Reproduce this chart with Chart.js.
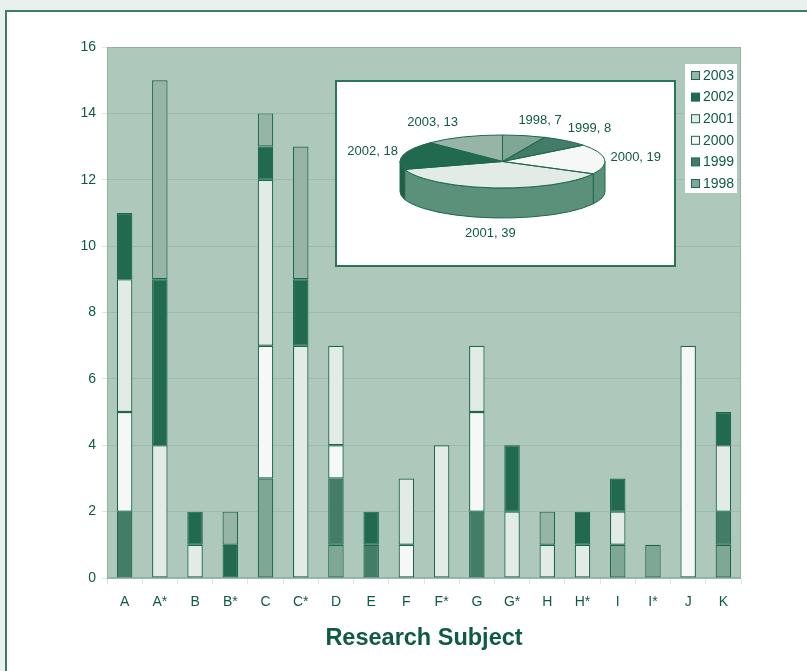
<!DOCTYPE html>
<html>
<head>
<meta charset="utf-8">
<script src="https://cdn.jsdelivr.net/npm/chart.js@4/dist/chart.umd.min.js"></script>
<style>
  html, body { margin: 0; padding: 0; background: #e9f1ee; }
  #stage { position: relative; width: 807px; height: 671px; overflow: hidden; }
  #panel { position: absolute; left: 5px; top: 10px; width: 900px; height: 800px;
           background: #ffffff; border: 2px solid #3f7c64; box-sizing: border-box; }
  #main { position: absolute; left: 0; top: 0; }
  #pieBox { position: absolute; left: 335px; top: 80px; width: 341px; height: 187px;
            box-sizing: border-box; border: 2px solid #2d7358; background: #ffffff; }
  #pie { position: absolute; left: 0; top: 0; }
</style>
</head>
<body>
<div id="stage">
  <div id="panel"></div>
  <canvas id="main" width="807" height="671"></canvas>
  <div id="pieBox"><canvas id="pie" width="337" height="183"></canvas></div>
</div>
<script>
// Research subjects along the x axis
const subjects = ['A', 'A*', 'B', 'B*', 'C', 'C*', 'D', 'E', 'F', 'F*', 'G', 'G*', 'H', 'H*', 'I', 'I*', 'J', 'K'];
const years = ['1998', '1999', '2000', '2001', '2002', '2003'];

// Count per subject for each year (stacked bottom to top)
const v1998 = [0, 0, 0, 0, 3, 0, 1, 0, 0, 0, 0, 0, 0, 0, 1, 1, 0, 1];
const v1999 = [2, 0, 0, 0, 0, 0, 2, 1, 0, 0, 2, 0, 0, 0, 0, 0, 0, 1];
const v2000 = [3, 0, 0, 0, 4, 0, 1, 0, 1, 0, 3, 0, 0, 0, 0, 0, 7, 0];
const v2001 = [4, 4, 1, 0, 5, 7, 3, 0, 2, 4, 2, 2, 1, 1, 1, 0, 0, 2];
const v2002 = [2, 5, 1, 1, 1, 2, 0, 1, 0, 0, 0, 2, 0, 1, 1, 0, 0, 1];
const v2003 = [0, 6, 0, 1, 1, 4, 0, 0, 0, 0, 0, 0, 1, 0, 0, 0, 0, 0];

const yTicks = [0, 2, 4, 6, 8, 10, 12, 14, 16];

const seriesValues = [v1998, v1999, v2000, v2001, v2002, v2003];
const faceColors = ['#7fa796', '#447d67', '#f6f8f7', '#e3ebe7', '#216a50', '#97b5a7'];
const sideColors = ['#6a9584', '#2f6a54', '#5b917b', '#5b917b', '#1d5f47', '#7fa190'];
const inkColor = '#0f5b40';
const edgeColor = '#1c684d';
const FONT = '"Liberation Sans", Arial, Helvetica, sans-serif';

// Totals per year for the inset pie
const yearTotals = seriesValues.map(arr => arr.reduce((a, b) => a + b, 0));

// ---------- main stacked bar chart ----------
const plotFrame = {
  id: 'plotFrame',
  beforeDraw(chart) {
    const { ctx, chartArea: a } = chart;
    ctx.save();
    ctx.fillStyle = '#afc8bc';
    ctx.fillRect(a.left, a.top, a.right - a.left, a.bottom - a.top);
    ctx.restore();
  },
  beforeDatasetsDraw(chart) {
    const { ctx, chartArea: a } = chart;
    ctx.save();
    ctx.strokeStyle = '#8fb2a2';
    ctx.lineWidth = 1;
    ctx.strokeRect(a.left + 0.5, a.top + 0.5, a.right - a.left - 1, a.bottom - a.top - 1);
    ctx.restore();
  }
};

// Boxed legend listing the years, newest first
const boxLegend = {
  id: 'boxLegend',
  afterDraw(chart) {
    const { ctx } = chart;
    const x0 = 685, y0 = 64, w = 52, h = 129;
    ctx.save();
    ctx.fillStyle = '#ffffff';
    ctx.fillRect(x0, y0, w, h);
    ctx.font = '14px ' + FONT;
    ctx.textBaseline = 'middle';
    ctx.textAlign = 'left';
    const order = chart.data.datasets.map((d, i) => i).reverse();
    order.forEach((di, row) => {
      const ds = chart.data.datasets[di];
      const cy = y0 + 11.5 + row * 21.6;
      ctx.fillStyle = ds.backgroundColor;
      ctx.fillRect(691.5, cy - 4, 8, 8);
      ctx.strokeStyle = edgeColor;
      ctx.lineWidth = 1;
      ctx.strokeRect(691.5, cy - 4, 8, 8);
      ctx.fillStyle = inkColor;
      ctx.fillText(ds.label, 703, cy + 0.5);
    });
    ctx.restore();
  }
};

new Chart(document.getElementById('main'), {
  type: 'bar',
  data: {
    labels: subjects,
    datasets: years.map((y, i) => ({
      label: y,
      data: seriesValues[i].map(v => (v === 0 ? null : v)),
      backgroundColor: faceColors[i],
      borderColor: edgeColor,
      borderWidth: 1.2,
      borderSkipped: false,
      barPercentage: 0.44,
      categoryPercentage: 1.0
    }))
  },
  options: {
    responsive: false,
    animation: false,
    events: [],
    layout: { padding: { left: 47, top: 47, right: 66, bottom: 0 } },
    plugins: { legend: { display: false }, tooltip: { enabled: false } },
    scales: {
      x: {
        stacked: true,
        border: { display: false },
        grid: { display: true, drawOnChartArea: false, offset: true, tickLength: 6,
                color: '#dbe4e0', tickColor: '#dbe4e0' },
        ticks: { color: inkColor, font: { family: FONT, size: 14 }, padding: 10,
                 maxRotation: 0, autoSkip: false },
        title: { display: true, text: 'Research Subject', color: inkColor,
                 font: { family: FONT, size: 23.5, weight: 'bold' },
                 padding: { top: 4, bottom: 18 } },
        afterFit(scale) { scale.height = 93; }
      },
      y: {
        stacked: true,
        min: 0,
        max: 16,
        border: { display: false },
        grid: { color: '#9dbbad', tickColor: '#dbe4e0', tickLength: 5 },
        ticks: { color: inkColor, font: { family: FONT, size: 14 }, padding: 6 },
        afterBuildTicks(scale) { scale.ticks = yTicks.map(v => ({ value: v })); },
        afterFit(scale) { scale.width = 60; }
      }
    }
  },
  plugins: [plotFrame, boxLegend]
});

// ---------- inset tilted pie with year totals ----------
const tilt = { ex: 165.5, ey: 79.5, rx: 102.5, ry: 26.5, depth: 30 };

const tiltedPie = {
  id: 'tiltedPie',
  beforeDatasetsDraw(chart) {
    const { ctx } = chart;
    const arcs = chart.getDatasetMeta(0).data;
    const { ex, ey, rx, ry, depth } = tilt;
    // visible rim of each slice (front half of the disc)
    ctx.save();
    ctx.lineWidth = 1;
    ctx.strokeStyle = edgeColor;
    arcs.forEach((arc, i) => {
      const a = Math.max(arc.startAngle, 0);
      const b = Math.min(arc.endAngle, Math.PI);
      if (a >= b) return;
      ctx.beginPath();
      ctx.ellipse(ex, ey, rx, ry, 0, a, b);
      ctx.ellipse(ex, ey + depth, rx, ry, 0, b, a, true);
      ctx.closePath();
      ctx.fillStyle = sideColors[i];
      ctx.fill();
      ctx.stroke();
    });
    ctx.restore();
    // flatten the slices that the library draws onto the top face
    const a0 = arcs[0];
    const r = a0.outerRadius;
    ctx.save();
    ctx.translate(ex, ey);
    ctx.scale(rx / r, ry / r);
    ctx.translate(-a0.x, -a0.y);
  },
  afterDatasetsDraw(chart) {
    const { ctx } = chart;
    ctx.restore();
    const arcs = chart.getDatasetMeta(0).data;
    const { ex, ey, rx, ry } = tilt;
    ctx.save();
    ctx.lineWidth = 1;
    ctx.strokeStyle = edgeColor;
    arcs.forEach(arc => {
      ctx.beginPath();
      ctx.moveTo(ex, ey);
      ctx.ellipse(ex, ey, rx, ry, 0, arc.startAngle, arc.endAngle);
      ctx.closePath();
      ctx.stroke();
    });
    ctx.restore();
  },
  afterDraw(chart) {
    const { ctx } = chart;
    const arcs = chart.getDatasetMeta(0).data;
    const values = chart.data.datasets[0].data;
    const { ex, ey, rx, ry, depth } = tilt;
    ctx.save();
    ctx.font = '13px ' + FONT;
    ctx.fillStyle = inkColor;
    ctx.textAlign = 'center';
    ctx.textBaseline = 'middle';
    arcs.forEach((arc, i) => {
      const mid = (arc.startAngle + arc.endAngle) / 2;
      const c = Math.cos(mid), s = Math.sin(mid);
      const text = chart.data.labels[i] + ', ' + values[i];
      const w = ctx.measureText(text).width;
      // labels above the disc spread out sideways so they do not collide
      const spread = s < -0.9 ? 1.45 : (s < -0.5 ? 1.1 : 1);
      const ax = ex + c * (rx + 6) * spread;
      const ay = ey + s * (ry + 8) + (s > 0 ? depth : 0);
      ctx.fillText(text, ax + c * w / 2, ay + s * 8);
    });
    ctx.restore();
  }
};

new Chart(document.getElementById('pie'), {
  type: 'pie',
  data: {
    labels: years,
    datasets: [{
      data: yearTotals,
      backgroundColor: faceColors,
      borderWidth: 0
    }]
  },
  options: {
    responsive: false,
    animation: false,
    events: [],
    plugins: { legend: { display: false }, tooltip: { enabled: false } }
  },
  plugins: [tiltedPie]
});
</script>
</body>
</html>
